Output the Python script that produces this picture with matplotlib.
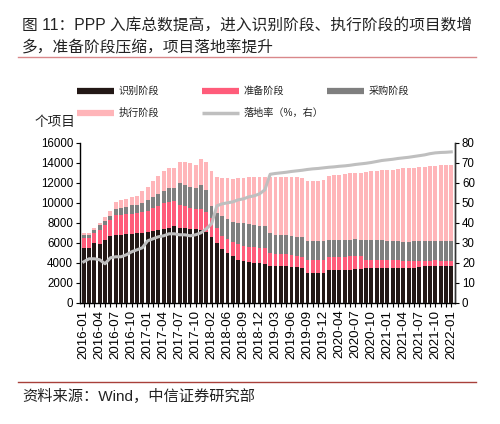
import matplotlib.pyplot as plt
import numpy as np
import pandas as pd
from matplotlib.lines import Line2D

plt.rcParams['font.family'] = ['Liberation Sans', 'Noto Sans CJK SC']

# Months in the PPP database (2018-01, 2018-05 and 2020-01 not reported)
skip = ['2018-01', '2018-05', '2020-01']
months = [m for m in pd.period_range('2016-01', '2022-01', freq='M').strftime('%Y-%m') if m not in skip]

# Number of projects by stage
identify = [5500, 5500, 6000, 5850, 6300, 6700, 6750, 6750, 6850, 6900,
            6950, 7000, 7100, 7200, 7250, 7400, 7500, 7650, 7500, 7500,
            7400, 7350, 7300, 7100, 6600, 6000, 5400, 5000, 4650, 4300,
            4200, 4100, 4000, 3950, 3900, 3700, 3700, 3650, 3650, 3600,
            3550, 3500, 3000, 3000, 3000, 2950, 3250, 3300, 3300, 3300,
            3300, 3350, 3400, 3450, 3450, 3450, 3450, 3450, 3500, 3500,
            3500, 3500, 3500, 3550, 3650, 3650, 3700, 3650, 3700, 3700]
prepare = [1000, 950, 950, 1450, 1450, 1550, 2000, 2000, 2000, 2000,
           2000, 2100, 2100, 2250, 2400, 2550, 2600, 2550, 2300, 2150,
           2100, 2050, 2050, 2000, 1900, 1500, 1250, 1350, 1450, 1550,
           1500, 1500, 1550, 1550, 1550, 1250, 1200, 1250, 1200, 1150,
           1150, 1100, 1300, 1250, 1250, 1300, 1300, 1300, 1300, 1300,
           1350, 1350, 1300, 800, 850, 850, 800, 800, 750, 750,
           700, 700, 700, 650, 550, 550, 550, 500, 500, 450]
procure = [300, 350, 350, 450, 450, 400, 650, 750, 750, 850,
           800, 900, 1050, 1150, 1250, 1250, 1350, 1250, 2200, 2100,
           2100, 2100, 2400, 2200, 1200, 1500, 2000, 2000, 2000, 2150,
           2250, 2250, 2250, 2200, 2200, 2000, 1900, 1900, 1900, 1900,
           1900, 1950, 1900, 1950, 1900, 1900, 1750, 1700, 1700, 1700,
           1650, 1650, 1600, 2000, 2000, 1950, 2000, 1950, 1900, 1900,
           1900, 1900, 1950, 1950, 2000, 2000, 1950, 2000, 2000, 2050]
execute = [200, 150, 150, 200, 400, 550, 700, 800, 800, 850,
           950, 1200, 1350, 1600, 1800, 2000, 2050, 2050, 2100, 2350,
           2400, 2300, 2650, 2750, 3450, 3600, 3850, 4100, 4300, 4450,
           4550, 4700, 4800, 4900, 4950, 5650, 5800, 5800, 5800, 5900,
           5950, 5950, 6000, 6000, 6050, 6100, 6400, 6450, 6500, 6600,
           6650, 6650, 6700, 6850, 6900, 6950, 7050, 7100, 7150, 7250,
           7350, 7350, 7350, 7400, 7400, 7450, 7500, 7600, 7550, 7600]
# Landing rate (%), right axis
rate = [20.5, 22, 22, 21.5, 19.5, 22.5, 23, 23, 24, 25.5,
        26.5, 27.5, 31, 32, 33, 33.5, 34.5, 34.5, 34, 34,
        33.5, 34, 35, 37, 39.5, 48.5, 49.5, 50, 50.5, 51.5,
        52, 53, 53.5, 54.5, 56.5, 64.3, 64.7, 65, 65.3, 65.7,
        66, 66.3, 66.7, 67, 67.2, 67.5, 67.8, 68, 68.3, 68.5,
        68.8, 69.2, 69.5, 69.8, 70.2, 70.7, 71.2, 71.5, 71.8, 72.2,
        72.5, 72.8, 73.2, 73.6, 74, 74.6, 75, 75.2, 75.3, 75.5]

stages = [('识别阶段', identify, '#231816'),
          ('准备阶段', prepare, '#FF5C7A'),
          ('采购阶段', procure, '#7F7F7F'),
          ('执行阶段', execute, '#FFB5B9')]
line_color = '#BFBFBF'

fig = plt.figure(figsize=(5, 4.24), dpi=100)
ax = fig.add_axes([0.16, 0.286, 0.75, 0.377])
x = np.arange(len(months))

bottom = np.zeros(len(months))
for name, vals, color in stages:
    ax.bar(x, vals, bottom=bottom, width=0.72, color=color, linewidth=0)
    bottom += np.array(vals)

ax.set_xlim(-0.7, len(months) - 0.3)
ax.set_ylim(0, 16000)
ax.set_yticks(np.arange(0, 16001, 2000))
ax.tick_params(axis='y', labelsize=8.3, length=3, width=0.8, pad=2)
ax.set_xticks(x[::3])
ax.set_xticklabels(months[::3], rotation=90, fontsize=9.6)
ax.set_xticks(x, minor=True)
ax.tick_params(axis='x', which='both', length=3, width=0.8, pad=2)
for s in ['top']:
    ax.spines[s].set_visible(False)
for s in ['left', 'bottom', 'right']:
    ax.spines[s].set_linewidth(1.0)
    ax.spines[s].set_color('#333333')

ax2 = ax.twinx()
ax2.plot(x, rate, color=line_color, linewidth=2.2)
ax2.set_ylim(0, 80)
ax2.set_yticks(np.arange(0, 81, 10))
ax2.tick_params(axis='y', labelsize=8.3, length=3, width=0.8, pad=2)
ax2.spines['top'].set_visible(False)
ax2.spines['right'].set_linewidth(1.0)
ax2.spines['right'].set_color('#333333')

# Title and frame lines
fig.text(0.044, 0.941, '图 11：PPP 入库总数提高，进入识别阶段、执行阶段的项目数增',
         fontsize=11.3, va='center', ha='left', color='#222222')
fig.text(0.044, 0.887, '多，准备阶段压缩，项目落地率提升',
         fontsize=11.3, va='center', ha='left', color='#222222')
fig.add_artist(Line2D([0.036, 0.952], [0.865, 0.865], color='#D9888A', linewidth=1.0))
fig.add_artist(Line2D([0.036, 0.952], [0.098, 0.098], color='#A8403A', linewidth=1.0))
fig.text(0.044, 0.064, '资料来源：Wind，中信证券研究部', fontsize=11, va='center', ha='left', color='#222222')

# Legend drawn by hand to follow the grid of the original
legend_items = [('识别阶段', stages[0][2], 0.154, 0.786),
                ('准备阶段', stages[1][2], 0.404, 0.786),
                ('采购阶段', stages[2][2], 0.654, 0.786),
                ('执行阶段', stages[3][2], 0.154, 0.734),
                ('落地率（%，右）', line_color, 0.404, 0.734)]
for label, color, lx, ly in legend_items:
    lw = 2.5 if label.startswith('落地率') else 4.5
    fig.add_artist(Line2D([lx, lx + 0.074], [ly, ly], color=color, linewidth=lw, solid_capstyle='butt'))
    fig.text(lx + 0.083, ly, label, fontsize=7.3, va='center', ha='left', color='#222222')

fig.text(0.07, 0.713, '个项目', fontsize=9.8, va='center', ha='left', color='#222222')

fig.savefig('out.png', dpi=100)
